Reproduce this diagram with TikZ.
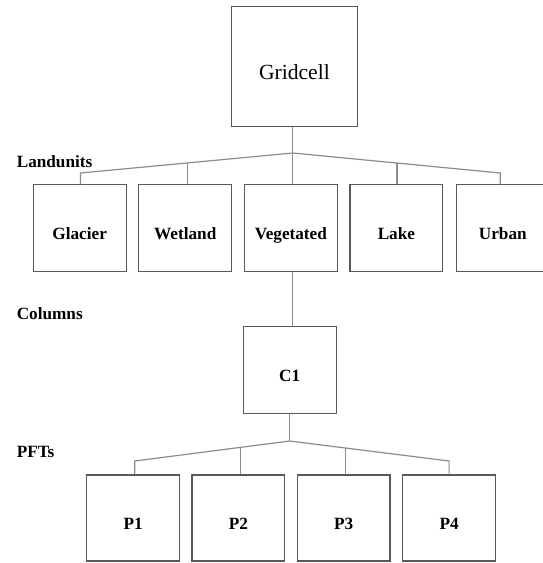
\documentclass[tikz,border=0pt]{standalone}
\usepackage{fontspec}
\setmainfont{Liberation Serif}
\begin{document}
\begin{tikzpicture}[x=1pt,y=-1pt,
  box/.style={draw=black!65, line width=1.1pt, inner sep=0pt,
    minimum width=92.8pt, minimum height=86.3pt,
    font=\fontsize{17.2}{20}\selectfont\bfseries, text height=23.4pt, text depth=0pt},
  conn/.style={draw=black!45, line width=1.2pt},
  levellabel/.style={font=\fontsize{17.2}{20}\selectfont\bfseries, anchor=base west, inner sep=0pt}]
\useasboundingbox (0,0) rectangle (542,563);
% top
\node[box, minimum width=125.5pt, minimum height=119.3pt,
  font=\fontsize{21.6}{24}\selectfont, text height=25.8pt] (grid) at (294.4,66.4) {Gridcell};
% level labels
\node[levellabel] (lland) at (16.6,167.4) {Landunits};
\node[levellabel] (lcol) at (16.6,319.0) {Columns};
\node[levellabel] (lpft) at (16.6,457.4) {PFTs};
% landunits
\node[box] (gl) at (79.7,228) {Glacier};
\node[box] (we) at (185.3,228) {Wetland};
\node[box] (ve) at (290.9,228) {Vegetated};
\node[box] (la) at (396.4,228) {Lake};
\node[box] (ur) at (502.8,228) {Urban};
% column
\node[box] (c1) at (289.7,369.9) {C1};
% pfts
\node[box, minimum height=86pt] (p1) at (133.1,518) {P1};
\node[box, minimum height=86pt] (p2) at (238.4,518) {P2};
\node[box, minimum height=86pt] (p3) at (343.6,518) {P3};
\node[box, minimum height=86pt] (p4) at (449.2,518) {P4};
% connector points
\coordinate (a1) at (292.8,153);
\coordinate (lend) at (80.5,173);
\coordinate (l2) at (187.7,163);
\coordinate (r2) at (396.9,163);
\coordinate (rend) at (500.2,173);
\coordinate (b1) at (289.7,441);
\coordinate (ple) at (134.8,461);
\coordinate (pl2) at (240.3,448);
\coordinate (pr2) at (345.4,448);
\coordinate (pre) at (449.1,461);
% gridcell to landunits
\draw[conn] (grid.south -| a1) -- (a1);
\draw[conn] (gl.north -| lend) -- (lend) -- (a1) -- (rend) -- (ur.north -| rend);
\draw[conn] (we.north -| l2) -- (l2);
\draw[conn] (ve.north -| a1) -- (a1);
\draw[conn] (la.north -| r2) -- (r2);
% vegetated to column
\draw[conn] (ve.south -| a1) -- (c1.north -| a1);
% column to pfts
\draw[conn] (c1.south) -- (b1);
\draw[conn] (p1.north -| ple) -- (ple) -- (b1) -- (pre) -- (p4.north -| pre);
\draw[conn] (p2.north -| pl2) -- (pl2);
\draw[conn] (p3.north -| pr2) -- (pr2);
\end{tikzpicture}
\end{document}
